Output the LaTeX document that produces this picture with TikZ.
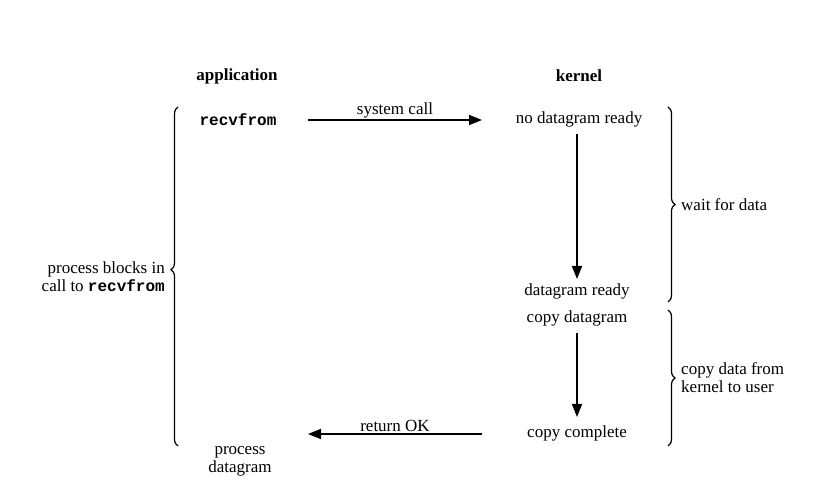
\documentclass[tikz,border=0pt]{standalone}
\usepackage{fontspec}
\setmainfont{Liberation Serif}
\setmonofont{Liberation Mono}
\usetikzlibrary{arrows.meta,decorations.pathreplacing}
\begin{document}
\begin{tikzpicture}[x=1pt,y=-1pt,
  lbl/.style={font=\fontsize{17}{18}\selectfont, inner sep=1pt},
  head/.style={font=\fontsize{17}{18}\selectfont\bfseries, inner sep=1pt},
  flow/.style={line width=1.8pt, -{Triangle[length=13pt,width=10pt]}},
  brc/.style={line width=1.2pt, decorate, decoration={brace, amplitude=7pt}}]
\useasboundingbox (0,0) rectangle (830,502);
\node[head] (app) at (237,76) {application};
\node[head] (ker) at (579,76) {kernel};
\node[lbl, font=\fontsize{16}{18}\selectfont\ttfamily\bfseries] (recv) at (238,120) {recvfrom};
\node[lbl] (nodg) at (579,119) {no datagram ready};
\node[lbl] (dgr) at (577,291) {datagram ready};
\node[lbl] (cpd) at (577,318) {copy datagram};
\node[lbl] (cpc) at (577,433) {copy complete};
\node[lbl, align=center] (proc) at (240,461) {process\\datagram};
\coordinate (scA) at (308,120);
\coordinate (scB) at (482,120);
\draw[flow] (scA) -- node[lbl, above=0pt] (sc) {system call} (scB);
\coordinate (okA) at (482,434);
\coordinate (okB) at (308,434);
\draw[flow] (okA) -- node[lbl, above=0pt] (ok) {return OK} (okB);
\coordinate (w1) at (577,134);
\coordinate (w2) at (577,279);
\draw[flow] (w1) -- (w2);
\coordinate (c1) at (577,333);
\coordinate (c2) at (577,417);
\draw[flow] (c1) -- (c2);
% braces
\coordinate (lb1) at (178,446);
\coordinate (lb2) at (178,107);
\draw[brc, decoration={aspect=0.52}] (lb1) -- (lb2);
\node[lbl, align=right, anchor=east] (blk) at (166,277) {process blocks in\\call to {\fontsize{16}{18}\selectfont\ttfamily\bfseries recvfrom}};
\coordinate (rb1) at (668,107);
\coordinate (rb2) at (668,302);
\draw[brc] (rb1) -- (rb2);
\node[lbl, anchor=west] (wait) at (680,205) {wait for data};
\coordinate (rb3) at (668,310);
\coordinate (rb4) at (668,446);
\draw[brc] (rb3) -- (rb4);
\node[lbl, align=left, anchor=west] (cpy) at (680,378) {copy data from\\kernel to user};
\end{tikzpicture}
\end{document}
